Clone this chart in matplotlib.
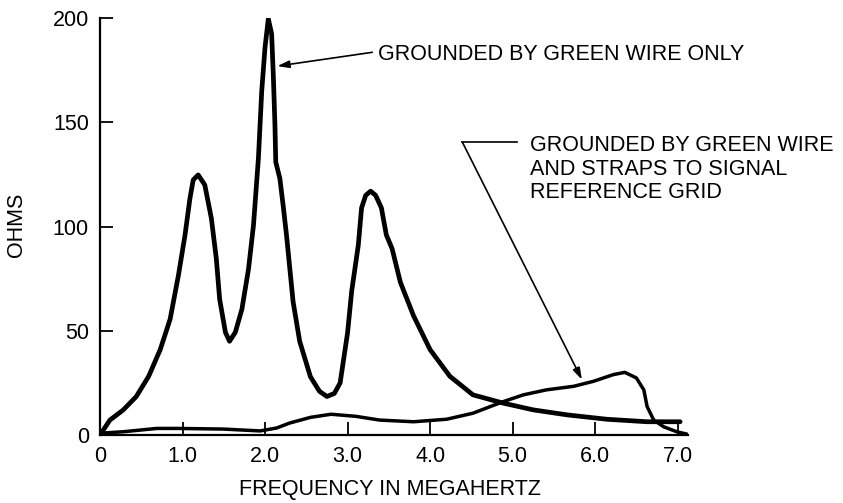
import matplotlib
matplotlib.use('Agg')
import matplotlib.pyplot as plt

plt.rcParams['font.family'] = ['Liberation Sans', 'DejaVu Sans']

# grounded by green wire only
green_x = [0, 0.04, 0.12, 0.28, 0.44, 0.59, 0.73, 0.85, 0.95, 1.03, 1.09, 1.13, 1.19, 1.27,
           1.35, 1.41, 1.45, 1.52, 1.57, 1.64, 1.72, 1.80, 1.86, 1.92, 1.96, 2.00, 2.04,
           2.08, 2.10, 2.12, 2.13, 2.18, 2.22, 2.26, 2.34, 2.42, 2.55, 2.66, 2.75, 2.84,
           2.91, 3.00, 3.05, 3.13, 3.17, 3.22, 3.28, 3.34, 3.41, 3.47, 3.54, 3.64, 3.80,
           4.00, 4.24, 4.52, 4.89, 5.25, 5.66, 6.14, 6.63, 7.03]
green_y = [0, 2.4, 7.2, 12, 18.5, 28.2, 41, 55.6, 76.5, 95.8, 113.5, 122.4, 124.8, 120,
           103.9, 84.5, 65.2, 49.3, 45, 49.3, 60.4, 79.7, 100.6, 132.9, 165, 186, 199.7,
           192.4, 173, 149, 131, 123, 110, 96, 64, 45, 28, 21, 18.5, 20,
           25, 49, 69, 91, 109, 115, 117, 115, 109, 96, 89.4, 73.3, 57.2,
           41, 28.2, 19.3, 15.3, 12.1, 9.7, 7.6, 6.4, 6.4]

# grounded by green wire and straps to signal reference grid
straps_x = [0, 0.04, 0.28, 0.69, 0.93, 1.49, 1.94, 2.14, 2.30, 2.55, 2.80, 3.10, 3.39, 3.80,
            4.20, 4.52, 4.73, 4.89, 5.13, 5.41, 5.74, 5.98, 6.22, 6.36, 6.50, 6.59, 6.63,
            6.71, 6.83, 6.99, 7.11]
straps_y = [0, 1, 1.6, 3.2, 3.2, 2.9, 2, 3.4, 5.8, 8.5, 10, 9, 7.2, 6.4,
            7.6, 10.5, 13.7, 16.1, 19.3, 21.7, 23.4, 25.8, 29, 30.1, 27.4, 21.7, 13.7,
            7.2, 4, 1.6, 0.5]

x_ticks = [0, 1, 2, 3, 4, 5, 6, 7]
x_labels = ['0', '1.0', '2.0', '3.0', '4.0', '5.0', '6.0', '7.0']
y_ticks = [0, 50, 100, 150, 200]

fig = plt.figure(figsize=(8.43, 5.03), dpi=100)
ax = fig.add_axes([0.1186, 0.135, 0.697, 0.829])

ax.plot(green_x, green_y, color='black', lw=3.4, solid_capstyle='round', solid_joinstyle='round')
ax.plot(straps_x, straps_y, color='black', lw=2.5, solid_capstyle='round', solid_joinstyle='round')

ax.set_xlim(0, 7.12)
ax.set_ylim(0, 200)
ax.set_xticks(x_ticks)
ax.set_xticklabels(x_labels)
ax.set_yticks(y_ticks)
for s in ['top', 'right']:
    ax.spines[s].set_visible(False)
for s in ['left', 'bottom']:
    ax.spines[s].set_linewidth(1.6)
ax.tick_params(direction='in', length=9.5, width=1.3, labelsize=15.5)
ax.tick_params(axis='x', pad=8)
ax.tick_params(axis='y', pad=8)

ax.set_xlabel('FREQUENCY IN MEGAHERTZ', fontsize=15.5)
ax.xaxis.set_label_coords(0.494, -0.105)
ax.set_ylabel('OHMS', fontsize=15.5)
ax.yaxis.set_label_coords(-0.125, 0.504)

arrow = dict(arrowstyle='-|>,head_length=0.7,head_width=0.22', color='black', lw=1.2, shrinkA=0, shrinkB=0)
ax.annotate('', xy=(2.15, 177), xytext=(3.30, 183.6), arrowprops=arrow)
ax.text(3.37, 182.5, 'GROUNDED BY GREEN WIRE ONLY', fontsize=15.5, va='center', ha='left')

ax.plot([4.39, 5.05], [140.6, 140.6], color='black', lw=1.2)
ax.annotate('', xy=(5.84, 26.6), xytext=(4.39, 140.6), arrowprops=arrow)
ax.text(5.21, 127.5, 'GROUNDED BY GREEN WIRE\nAND STRAPS TO SIGNAL\nREFERENCE GRID',
        fontsize=15.5, va='center', ha='left', linespacing=1.15)

fig.savefig('out.png', dpi=100)
